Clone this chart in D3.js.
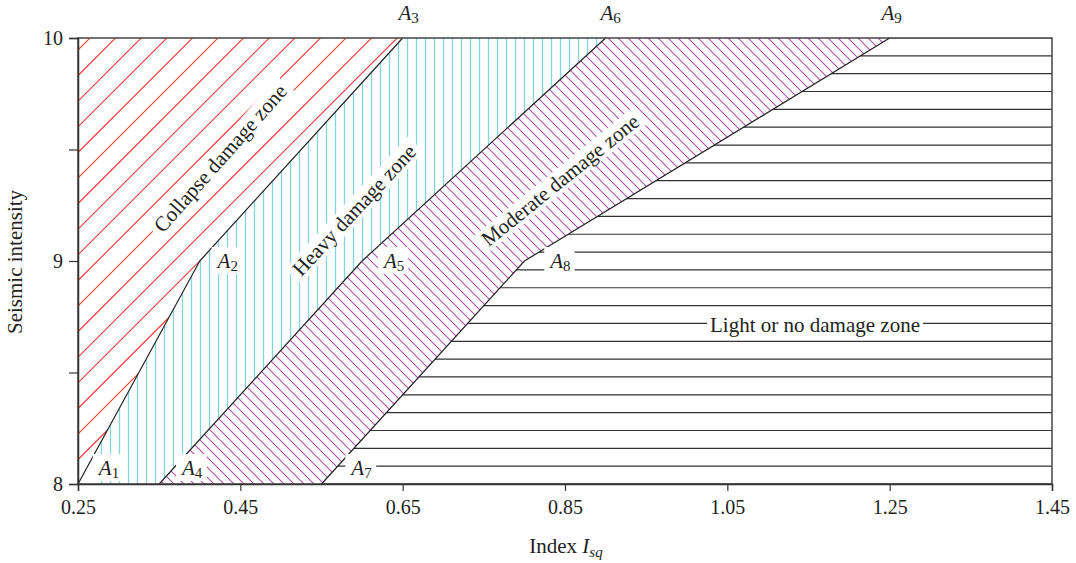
<!DOCTYPE html>
<html><head><meta charset="utf-8">
<script src="https://cdn.jsdelivr.net/npm/d3@7"></script>
<style>
html,body{margin:0;padding:0;background:#fff;}
svg{display:block;font-family:"Liberation Serif","DejaVu Serif",serif;}
</style></head>
<body>
<svg id="chart" width="1076" height="563"></svg>
<script>
// ---- data ----
const xTicks = [0.25, 0.45, 0.65, 0.85, 1.05, 1.25, 1.45];
const xTickLabels = ["0.25","0.45","0.65","0.85","1.05","1.25","1.45"];
const yTicks = [8, 8.5, 9, 9.5, 10];
const yTickLabels = ["8", "", "9", "", "10"];
// boundary lines (A1-A2-A3, A4-A5-A6, A7-A8-A9)
const boundary1 = [[0.25, 8], [0.40, 9], [0.65, 10]];
const boundary2 = [[0.35, 8], [0.60, 9], [0.90, 10]];
const boundary3 = [[0.55, 8], [0.80, 9], [1.25, 10]];
const pointNames = ["1","2","3","4","5","6","7","8","9"];
const zoneNames = ["Collapse damage zone", "Heavy damage zone", "Moderate damage zone", "Light or no damage zone"];

// ---- layout ----
const m = {l: 78, r: 1052, t: 38, b: 484};
const x = d3.scaleLinear().domain([0.25, 1.45]).range([m.l, m.r]);
const y = d3.scaleLinear().domain([8, 10]).range([m.b, m.t]);
const svg = d3.select("#chart");
const line = d3.line().x(d => x(d[0])).y(d => y(d[1]));

const xmin = 0.25, xmax = 1.45, ymin = 8, ymax = 10;
const zones = [
  [[xmin, ymin], boundary1[1], boundary1[2], [xmin, ymax]],
  [boundary1[0], boundary2[0], boundary2[1], boundary2[2], boundary1[2], boundary1[1]],
  [boundary2[0], boundary3[0], boundary3[1], boundary3[2], boundary2[2], boundary2[1]],
  [boundary3[0], [xmax, ymin], [xmax, ymax], boundary3[2], boundary3[1]]
];

const defs = svg.append("defs");
zones.forEach((z, i) => {
  defs.append("clipPath").attr("id", "zc" + i)
    .append("path").attr("d", line(z) + "Z");
});

// hatch: collapse (red, "/" 45deg)
const g0 = svg.append("g").attr("clip-path", "url(#zc0)");
for (let c = 128 - 25.6 * 10; c < 1200; c += 25.6) {
  g0.append("line").attr("x1", c - 600).attr("y1", 600).attr("x2", c).attr("y2", 0)
    .attr("stroke", "#ee3b34").attr("stroke-width", 1.1);
}
// hatch: heavy (cyan vertical)
const g1 = svg.append("g").attr("clip-path", "url(#zc1)");
for (let c = 101.5; c < 700; c += 9) {
  g1.append("line").attr("x1", c).attr("y1", m.t).attr("x2", c).attr("y2", m.b)
    .attr("stroke", "#86d2de").attr("stroke-width", 1.3);
}
// hatch: moderate (purple "\" )
const g2 = svg.append("g").attr("clip-path", "url(#zc2)");
for (let c = -600; c < 1200; c += 10) {
  g2.append("line").attr("x1", c).attr("y1", 0).attr("x2", c + 600).attr("y2", 600)
    .attr("stroke", "#ad4ea6").attr("stroke-width", 1.1);
}
// hatch: light (black horizontal at 0.08 steps)
const g3 = svg.append("g").attr("clip-path", "url(#zc3)");
for (let k = 0; k <= 25; k++) {
  const yy = y(8 + 0.08 * k);
  g3.append("line").attr("x1", m.l).attr("y1", yy).attr("x2", m.r).attr("y2", yy)
    .attr("stroke", "#333").attr("stroke-width", 1.2);
}

// boundaries
[boundary1, boundary2, boundary3].forEach(b => {
  svg.append("path").attr("d", line(b)).attr("fill", "none")
    .attr("stroke", "#222").attr("stroke-width", 1.2);
});

// helper: white-backed label
function boxedText(px, py, angle, txt, size, padX, padY) {
  const g = svg.append("g").attr("transform", `translate(${px},${py}) rotate(${angle})`);
  const t = g.append("text").attr("text-anchor", "middle").attr("dy", "0.35em")
    .attr("font-size", size).attr("fill", "#231f20").text(txt);
  const bb = t.node().getBBox();
  g.insert("rect", "text").attr("x", bb.x - padX).attr("y", bb.y - padY)
    .attr("width", bb.width + 2 * padX).attr("height", bb.height + 2 * padY).attr("fill", "#fff");
  return g;
}

// zone labels
boxedText(220, 158, -48.5, zoneNames[0], 21, 5, -1);
boxedText(354, 210, -47, zoneNames[1], 21, 5, -1);
boxedText(560, 180, -39, zoneNames[2], 21, 5, -1);
boxedText(815, 325, 0, zoneNames[3], 21, 3, -2);

// point labels A1..A9
const allPts = [...boundary1, ...boundary2, ...boundary3];
const offs = [[31, -15], [28, 1], [6, -24], [33, -15], [32, 1], [5, -24], [40, -15], [36, 1], [2, -24]];
allPts.forEach((p, j) => {
  const cx = x(p[0]) + offs[j][0], cy = y(p[1]) + offs[j][1];
  const g = svg.append("g").attr("transform", `translate(${cx},${cy})`);
  const t = g.append("text").attr("text-anchor", "middle").attr("y", 6)
    .attr("font-size", 21).attr("fill", "#231f20");
  t.append("tspan").attr("font-style", "italic").text("A");
  t.append("tspan").attr("font-size", 15).attr("dy", 3).text(pointNames[j]);
  const bb = t.node().getBBox();
  if (p[1] < 10) {
    g.insert("rect", "text").attr("x", bb.x - 4).attr("y", bb.y - 2)
      .attr("width", bb.width + 8).attr("height", bb.height + 2).attr("fill", "#fff");
  }
});

// frame
svg.append("rect").attr("x", m.l).attr("y", m.t).attr("width", m.r - m.l).attr("height", m.b - m.t)
  .attr("fill", "none").attr("stroke", "#444").attr("stroke-width", 1.5);

// axes
const xAxis = d3.axisBottom(x).tickValues(xTicks).tickFormat((d, i) => xTickLabels[i]).tickSize(7).tickPadding(9);
const gx = svg.append("g").attr("transform", `translate(0,${m.b})`).call(xAxis);
const yAxis = d3.axisLeft(y).tickValues(yTicks).tickFormat((d, i) => yTickLabels[i]).tickSize(9).tickPadding(6);
const gy = svg.append("g").attr("transform", `translate(${m.l},0)`).call(yAxis);
[gx, gy].forEach(g => {
  g.select(".domain").attr("stroke", "#333").attr("stroke-width", 1.5);
  g.selectAll(".tick line").attr("stroke", "#333").attr("stroke-width", 1.2);
  g.selectAll(".tick text").attr("font-family", "Liberation Serif, serif").attr("font-size", 20).attr("fill", "#231f20");
});

// axis titles
const xt = svg.append("text").attr("x", 566).attr("y", 553).attr("text-anchor", "middle")
  .attr("font-size", 21).attr("fill", "#231f20");
xt.append("tspan").text("Index ");
xt.append("tspan").attr("font-style", "italic").text("I");
xt.append("tspan").attr("font-style", "italic").attr("font-size", 15).attr("dy", 4).text("sq");
svg.append("text").attr("transform", "translate(22,262) rotate(-90)").attr("text-anchor", "middle")
  .attr("font-size", 21).attr("fill", "#231f20").text("Seismic intensity");
</script>
</body></html>
